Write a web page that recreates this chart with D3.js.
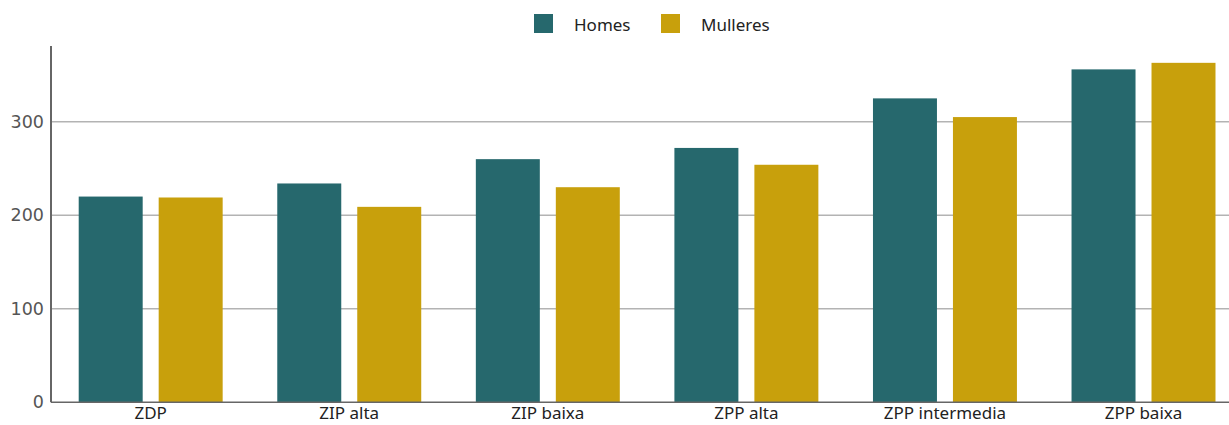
<!DOCTYPE html>
<html>
<head>
<meta charset="utf-8">
<script src="https://cdn.jsdelivr.net/npm/d3@7"></script>
<style>
  body { margin: 0; background: #fff; }
  .tick-label { font-family: "DejaVu Sans", sans-serif; font-size: 17.5px; fill: #555; }
  .cat-label { font-family: "Noto Sans", sans-serif; font-size: 17px; fill: #222; }
  .legend-label { font-family: "Noto Sans", sans-serif; font-size: 17px; fill: #222; }
</style>
</head>
<body>
<div id="chart"></div>
<script>
// Data
const categories = ["ZDP", "ZIP alta", "ZIP baixa", "ZPP alta", "ZPP intermedia", "ZPP baixa"];
const seriesNames = ["Homes", "Mulleres"];
const homes = [220, 234, 260, 272, 325, 356];
const mulleres = [219, 209, 230, 254, 305, 363];
const yTicks = [0, 100, 200, 300];

const colors = { Homes: "#26686d", Mulleres: "#c8a00c" };

const width = 1229, height = 425;
const margin = { top: 46, left: 51, bottom: 23 };

const svg = d3.select("#chart")
  .append("svg")
  .attr("width", width)
  .attr("height", height);

// Scales (plot runs slightly past the right edge, as in the original)
const x0 = d3.scaleBand()
  .domain(categories)
  .range([margin.left + 0.4, 1242.8])
  .paddingInner(0.275)
  .paddingOuter(0.1375);

const x1 = d3.scaleBand()
  .domain(seriesNames)
  .range([0, x0.bandwidth()])
  .paddingInner(0.2);

const y = d3.scaleLinear()
  .domain([0, 381])
  .range([height - margin.bottom + 0.3, margin.top]);

// Gridlines
svg.append("g")
  .selectAll("line")
  .data(yTicks.slice(1))
  .enter()
  .append("line")
  .attr("x1", margin.left)
  .attr("x2", width)
  .attr("y1", d => y(d))
  .attr("y2", d => y(d))
  .style("stroke", "#b3b3b3")
  .style("stroke-width", 1.5);

// Bars
const rows = categories.map((c, i) => ({ cat: c, Homes: homes[i], Mulleres: mulleres[i] }));

const groups = svg.append("g")
  .selectAll("g")
  .data(rows)
  .enter()
  .append("g")
  .attr("transform", d => `translate(${x0(d.cat)},0)`);

groups.selectAll("rect")
  .data(d => seriesNames.map(s => ({ key: s, value: d[s] })))
  .enter()
  .append("rect")
  .attr("x", d => x1(d.key))
  .attr("width", x1.bandwidth())
  .attr("y", d => y(d.value))
  .attr("height", d => y(0) - y(d.value))
  .attr("fill", d => colors[d.key]);

// Baseline
svg.append("line")
  .attr("x1", margin.left)
  .attr("x2", width)
  .attr("y1", y(0))
  .attr("y2", y(0))
  .style("stroke", "#666")
  .style("stroke-width", 1.5);

// Y axis
const yAxis = svg.append("g")
  .attr("transform", `translate(${margin.left},0)`)
  .call(d3.axisLeft(y).tickValues(yTicks).tickSize(0).tickPadding(7));
yAxis.select(".domain").attr("stroke", "#666").attr("stroke-width", 2)
  .attr("d", `M0,${margin.top}V${y(0)}`);
yAxis.selectAll("text").attr("class", "tick-label").attr("font-family", null).attr("font-size", null);

// X axis labels (kept just inside the bottom edge)
const xAxis = svg.append("g")
  .attr("transform", `translate(0,${y(0)})`)
  .call(d3.axisBottom(x0).tickSize(0).tickPadding(5));
xAxis.select(".domain").remove();
xAxis.selectAll("text").attr("class", "cat-label").attr("font-family", null).attr("font-size", null);

// Legend
const legendX = [534, 661];
const legend = svg.append("g")
  .selectAll("g")
  .data(seriesNames)
  .enter()
  .append("g")
  .attr("transform", (d, i) => `translate(${legendX[i]},14)`);

legend.append("rect")
  .attr("width", 19)
  .attr("height", 19)
  .attr("fill", d => colors[d]);

legend.append("text")
  .attr("class", "legend-label")
  .attr("x", 40)
  .attr("y", 16.5)
  .text(d => d);
</script>
</body>
</html>
